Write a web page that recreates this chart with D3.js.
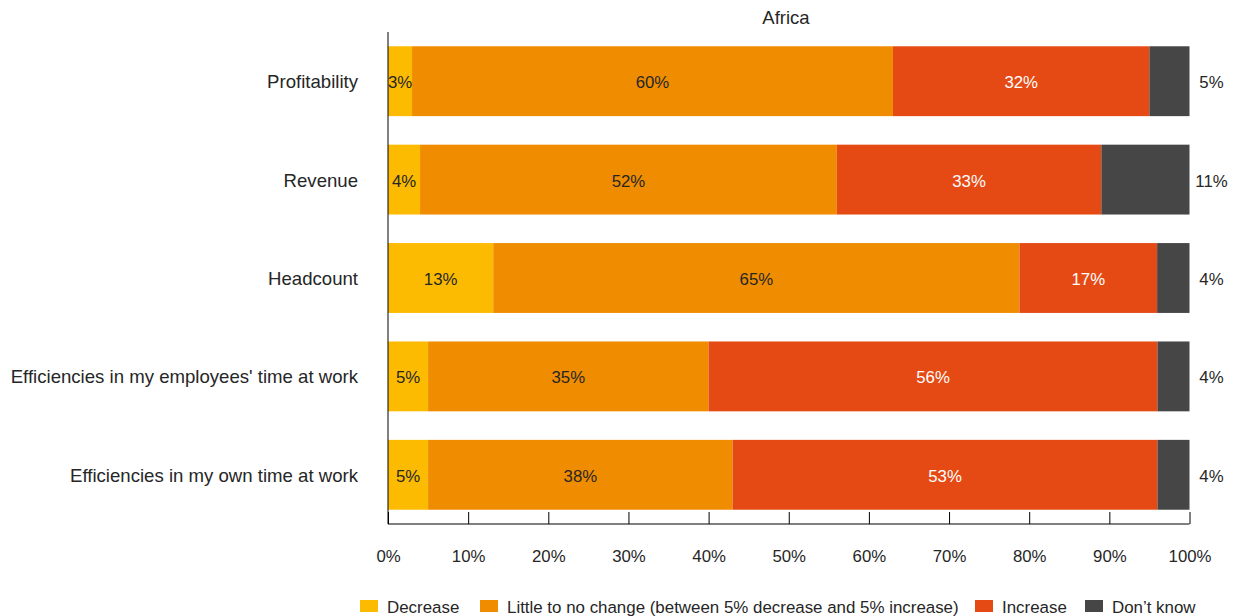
<!DOCTYPE html>
<html lang="en">
<head>
    <meta charset="UTF-8">
    <title>Africa</title>
    <script src="https://cdn.jsdelivr.net/npm/d3@7"></script>
    <style>
        html, body {
            margin: 0;
            padding: 0;
            background: #ffffff;
            overflow: hidden;
        }
        svg text {
            font-family: "Liberation Sans", Arial, sans-serif;
            fill: #262626;
        }
    </style>
</head>
<body>
<script>
    // data
    let categories = ['Profitability', 'Revenue', 'Headcount',
        "Efficiencies in my employees' time at work", 'Efficiencies in my own time at work'];
    let seriesNames = ['Decrease', 'Little to no change (between 5% decrease and 5% increase)', 'Increase', 'Don\u2019t know'];
    let decrease = [3, 4, 13, 5, 5];
    let noChange = [60, 52, 65, 35, 38];
    let increase = [32, 33, 17, 56, 53];
    let dontKnow = [5, 11, 4, 4, 4];
    let tickValues = [0, 0.1, 0.2, 0.3, 0.4, 0.5, 0.6, 0.7, 0.8, 0.9, 1];

    let colors = ['#fcbb00', '#f08c00', '#e64a14', '#464646'];
    let labelColors = ['#262626', '#262626', '#ffffff', '#262626'];

    let width = 1237, height = 616;
    let svg = d3.select('body').append('svg')
        .attr('width', width)
        .attr('height', height);

    let x = d3.scaleLinear().domain([0, 1]).range([388, 1189.5]);
    let y = d3.scaleBand().domain(categories).range([32, 524])
        .paddingInner(0.29).paddingOuter(0.145);

    // rows normalised to 100%
    let rows = categories.map((c, i) => {
        let vals = [decrease[i], noChange[i], increase[i], dontKnow[i]];
        let total = d3.sum(vals);
        let acc = 0;
        return vals.map((v, k) => {
            let seg = {cat: c, value: v, k: k, x0: acc / total, x1: (acc + v) / total};
            acc += v;
            return seg;
        });
    });

    // title
    svg.append('text')
        .attr('x', 786).attr('y', 24)
        .attr('text-anchor', 'middle')
        .style('font-size', '18.5px')
        .text('Africa');

    let bars = svg.append('g');
    rows.forEach(segs => {
        let g = bars.append('g');
        g.selectAll('rect').data(segs).enter().append('rect')
            .attr('x', d => x(d.x0))
            .attr('width', d => x(d.x1) - x(d.x0))
            .attr('y', d => y(d.cat))
            .attr('height', y.bandwidth())
            .attr('fill', d => colors[d.k]);

        g.selectAll('text').data(segs).enter().append('text')
            .attr('x', d => d.k === 3 ? x(1) + 22 : (x(d.x0) + x(d.x1)) / 2)
            .attr('y', d => y(d.cat) + y.bandwidth() / 2 + 7)
            .attr('text-anchor', 'middle')
            .style('font-size', '16.8px')
            .style('fill', d => labelColors[d.k])
            .text(d => d.value + '%');
    });

    // category labels
    svg.append('g').selectAll('text').data(categories).enter().append('text')
        .attr('x', 358)
        .attr('y', d => y(d) + y.bandwidth() / 2 + 7)
        .attr('text-anchor', 'end')
        .style('font-size', '18.6px')
        .text(d => d);

    // left axis line
    svg.append('line')
        .attr('x1', x(0)).attr('x2', x(0))
        .attr('y1', 32).attr('y2', 524)
        .attr('stroke', '#000').attr('stroke-width', 1);

    // bottom axis, ticks point up
    let xAxis = d3.axisTop(x)
        .tickValues(tickValues)
        .tickSize(12)
        .tickFormat(d3.format('.0%'));
    let ax = svg.append('g')
        .attr('transform', 'translate(0,524)')
        .call(xAxis);
    ax.select('.domain').attr('d', `M${x(0)},0H${x(1)}`).attr('stroke', '#000');
    ax.selectAll('.tick line').attr('stroke', '#000');
    ax.selectAll('.tick text')
        .attr('y', 38)
        .style('font-size', '16.8px')
        .style('font-family', '"Liberation Sans", Arial, sans-serif')
        .attr('fill', '#262626');

    // legend
    let legendX = [360, 480, 975, 1085];
    let legend = svg.append('g').selectAll('g').data(seriesNames).enter().append('g')
        .attr('transform', (d, i) => `translate(${legendX[i]},600)`);
    legend.append('rect')
        .attr('width', 18).attr('height', 12)
        .attr('fill', (d, i) => colors[i]);
    legend.append('text')
        .attr('x', 27).attr('y', 12.5)
        .style('font-size', '16.9px')
        .text(d => d);
</script>
</body>
</html>
